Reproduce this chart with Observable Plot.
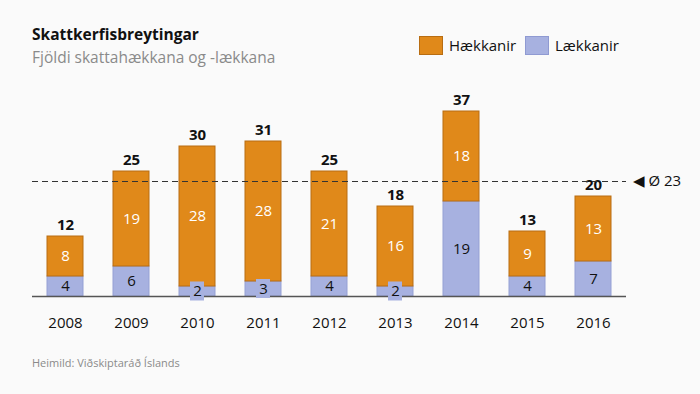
<!DOCTYPE html>
<html><head><meta charset="utf-8">
<script src="https://cdn.jsdelivr.net/npm/d3@7"></script>
<script src="https://cdn.jsdelivr.net/npm/@observablehq/plot@0.6"></script>
<style>
body{margin:0;background:#fafafa;font-family:"Open Sans",sans-serif;}
#wrap{position:relative;width:700px;height:394px;overflow:hidden;background:#fafafa;}
#chart{position:absolute;left:0;top:0;}
.title{position:absolute;left:32px;top:23px;font-size:15.5px;font-weight:700;color:#111;}
.sub{position:absolute;left:32px;top:46px;font-size:15.5px;color:#8a8a8a;}
.cap{position:absolute;left:32px;top:355px;font-size:11px;color:#8a8a8a;}
.leg{position:absolute;top:35px;font-size:15px;color:#111;display:flex;align-items:center;}
.sw{width:24px;height:19px;margin-right:6px;box-sizing:border-box;}
</style></head>
<body><div id="wrap">
<div id="chart"></div>
<div class="title">Skattkerfisbreytingar</div>
<div class="sub">Fjöldi skattahækkana og -lækkana</div>
<div class="leg" style="left:419px"><div class="sw" style="background:#E0891A;border:1px solid #b86d12"></div>Hækkanir</div>
<div class="leg" style="left:525px"><div class="sw" style="background:#A7B1E0;border:1px solid #8f9ad2"></div>Lækkanir</div>
<div class="cap">Heimild: Viðskiptaráð Íslands</div>
</div>
<script>
const years = ["2008","2009","2010","2011","2012","2013","2014","2015","2016"];
const haekkanir = [8,19,28,28,21,16,18,9,13];
const laekkanir = [4,6,2,3,4,2,19,4,7];
const average = 23;
const avgLabel = "◀ Ø 23";

const rows = years.map((y,i)=>({year:y, h:haekkanir[i], l:laekkanir[i], t:haekkanir[i]+laekkanir[i]}));
const small = rows.filter(d=>d.l<4);
const ORANGE="#E0891A", BLUE="#A7B1E0";

const chart = Plot.plot({
  width:700, height:394,
  marginLeft:32, marginRight:74, marginTop:96, marginBottom:98,
  style:{background:"transparent", fontFamily:"Open Sans, sans-serif"},
  x:{domain:years, paddingInner:0.4545, paddingOuter:0.2273, round:false, label:null},
  y:{domain:[0,40], axis:null},
  marks:[
    Plot.axisX({tickSize:0, tickPadding:21, fontSize:15, fill:"#111"}),
    Plot.barY(rows,{x:"year", y1:0, y2:"l", fill:BLUE, stroke:"#95a0d4", strokeWidth:1}),
    Plot.barY(rows,{x:"year", y1:"l", y2:"t", fill:ORANGE, stroke:"#b86d12", strokeWidth:1}),
    Plot.ruleY([0],{stroke:"#555", strokeWidth:1.5}),
    Plot.barY(small,{x:"year", y1:d=>d.l/2-1.9, y2:d=>d.l/2+1.9, fill:BLUE, insetLeft:11, insetRight:11}),
    Plot.text(rows,{x:"year", y:d=>d.l/2, text:"l", fill:"#111", fontSize:15}),
    Plot.text(rows,{x:"year", y:d=>d.l+d.h/2, text:"h", fill:"white", fontSize:15}),
    Plot.text(rows,{x:"year", y:"t", text:"t", dy:-11, fill:"#111", fontSize:15, fontWeight:"bold"}),
    Plot.ruleY([average],{stroke:"#333", strokeWidth:1, strokeDasharray:"6,4"}),
    Plot.text([average],{y:d=>d, frameAnchor:"right", textAnchor:"start", dx:6, text:()=>avgLabel, fill:"#111", fontSize:15})
  ]
});
document.getElementById("chart").appendChild(chart);
</script>
</body></html>
